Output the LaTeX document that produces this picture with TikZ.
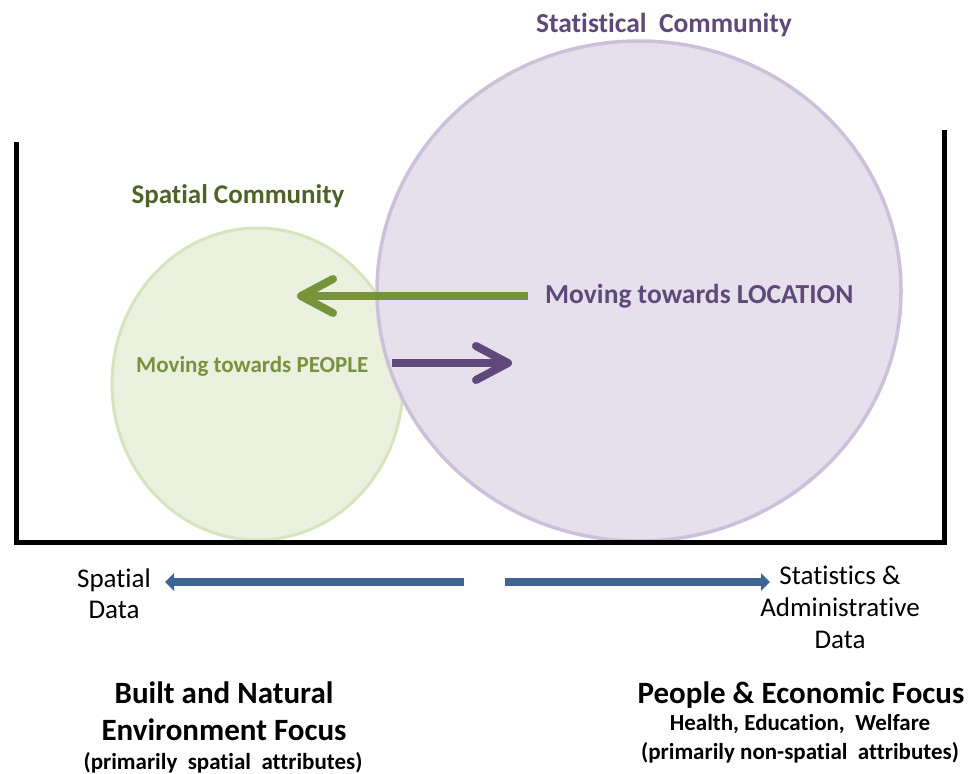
\documentclass[tikz,border=0pt]{standalone}
\usepackage{fontspec}
\setmainfont{Carlito}[Ligatures=NoCommon]
\usetikzlibrary{arrows.meta}
\definecolor{spgreen}{HTML}{77933C}
\definecolor{spdark}{HTML}{4F6228}
\definecolor{stpurple}{HTML}{5F497A}
\definecolor{greenfill}{HTML}{EBF1DE}
\definecolor{greenline}{HTML}{D7E4BD}
\definecolor{purplefill}{HTML}{E5E0EC}
\definecolor{purpleline}{HTML}{CCC1DA}
\definecolor{datablue}{HTML}{3C6494}
\tikzset{
  move/.style={line width=8pt,-{Straight Barb[length=32pt,width=34pt,round]}},
  data/.style={line width=8pt,datablue,-{Triangle[length=9pt,width=17pt]}},
  txt/.style={inner sep=0pt,anchor=base,align=center},
}
\begin{document}
\begin{tikzpicture}[x=1pt,y=-1pt]
\useasboundingbox (0,0) rectangle (973,773);
\draw[greenline,fill=greenfill,line width=3pt] (257.5,384) ellipse [x radius=145.5,y radius=156];
\draw[purpleline,fill=purplefill,line width=3.5pt] (639,291) ellipse [x radius=262,y radius=250];
\draw[line width=5pt] (16.5,142) -- (16.5,542.5) -- (944.5,542.5) -- (944.5,130);
\node[txt,text=stpurple,font=\bfseries\fontsize{27.5}{30}\selectfont] (stat) at (664,33) {Statistical\ \ Community};
\node[txt,text=spdark,font=\bfseries\fontsize{27}{30}\selectfont] (spat) at (238,203) {Spatial Community};
\node[txt,anchor=base west,text=stpurple,font=\bfseries\fontsize{27.5}{30}\selectfont] (toloc) at (545,303) {Moving towards LOCATION};
\node[txt,anchor=base west,text=spgreen,font=\bfseries\fontsize{23}{26}\selectfont] (topeople) at (136,372) {Moving\ towards\ PEOPLE};
\coordinate (locstart) at (528,296);
\coordinate (loctip) at (297,296);
\coordinate (pplstart) at (392,363);
\coordinate (ppltip) at (512,363);
\draw[move,spgreen] (locstart) -- (loctip);
\draw[move,stpurple] (pplstart) -- (ppltip);
\coordinate (leftstart) at (464,582);
\coordinate (lefttip) at (165,582);
\coordinate (rightstart) at (505,582);
\coordinate (righttip) at (770,582);
\draw[data] (leftstart) -- (lefttip);
\draw[data] (rightstart) -- (righttip);
\node[txt,font=\fontsize{27}{31}\selectfont] (spdata) at (114,618) {Spatial\\Data};
\node[txt,font=\fontsize{27}{32}\selectfont] (stdata) at (840,648) {Statistics \&\\Administrative\\Data};
\node[txt,font=\bfseries\fontsize{31}{37}\selectfont] (built) at (224,740) {Built and Natural\\Environment Focus};
\node[txt,font=\bfseries\fontsize{23}{28}\selectfont] (builtsub) at (223,769) {(primarily\ \ spatial\ \ attributes)};
\node[txt,font=\bfseries\fontsize{31}{37}\selectfont] (people) at (801,703) {People \& Economic Focus};
\node[txt,font=\bfseries\fontsize{23}{29}\selectfont] (peoplesub) at (800,759) {Health,\ Education,\ \ Welfare\\(primarily\ non-spatial\ \ attributes)};
\end{tikzpicture}
\end{document}
